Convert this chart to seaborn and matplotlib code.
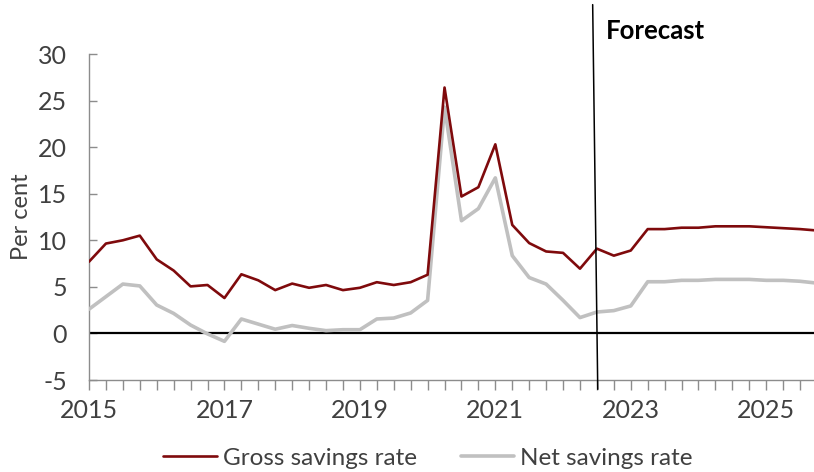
import numpy as np
import pandas as pd
import matplotlib
matplotlib.use("Agg")
import matplotlib.pyplot as plt
import seaborn as sns

# Quarterly household savings rates, 2015Q1 - 2025Q4 (per cent)
gross_rate = [7.7, 9.65, 10.0, 10.5, 7.95, 6.75, 5.05, 5.2, 3.8, 6.35, 5.7, 4.65,
              5.35, 4.9, 5.2, 4.65, 4.9, 5.5, 5.2, 5.5, 6.3, 26.4, 14.7, 15.7,
              20.3, 11.65, 9.7, 8.8, 8.65, 6.95, 9.1, 8.35, 8.9, 11.2, 11.2, 11.35,
              11.35, 11.5, 11.5, 11.5, 11.4, 11.3, 11.2, 11.05]
net_rate = [2.6, 3.95, 5.3, 5.1, 3.05, 2.15, 0.9, -0.05, -0.85, 1.55, 1.0, 0.45,
            0.85, 0.55, 0.3, 0.4, 0.4, 1.55, 1.65, 2.2, 3.55, 24.3, 12.1, 13.4,
            16.7, 8.35, 6.0, 5.3, 3.55, 1.7, 2.3, 2.45, 2.95, 5.55, 5.55, 5.7,
            5.7, 5.8, 5.8, 5.8, 5.7, 5.7, 5.6, 5.4]
year_labels = ["2015", "2017", "2019", "2021", "2023", "2025"]
forecast_start = 30.0  # quarter index where the forecast begins (2022Q3)

quarter = np.arange(len(gross_rate))
df = pd.DataFrame({"quarter": quarter, "gross": gross_rate, "net": net_rate})

sns.set_style("white")
plt.rcParams["font.family"] = ["Lato", "DejaVu Sans"]
plt.rcParams["axes.unicode_minus"] = False

fig = plt.figure(figsize=(8.14, 4.72), dpi=100)
ax = fig.add_axes([89 / 814, 92 / 472, (817 - 89) / 814, (380 - 54) / 472])

red = "#7F0A0C"
grey = "#C0C0C0"
sns.lineplot(data=df, x="quarter", y="net", ax=ax, color=grey, linewidth=2.6,
             label="Net savings rate", zorder=3)
sns.lineplot(data=df, x="quarter", y="gross", ax=ax, color=red, linewidth=1.9,
             label="Gross savings rate", zorder=4)

ax.axhline(0, color="black", linewidth=1.6, zorder=2)

ax.set_xlim(0, len(gross_rate) - 1)
ax.set_ylim(-5, 30)
ax.set_yticks(np.arange(-5, 31, 5))
ax.set_xticks(np.arange(0, len(gross_rate), 8))
ax.set_xticklabels(year_labels)
ax.set_xticks(quarter, minor=True)

for side in ("top", "right"):
    ax.spines[side].set_visible(False)
for side in ("left", "bottom"):
    ax.spines[side].set_color("#8C8C8C")
    ax.spines[side].set_linewidth(1.0)

ax.tick_params(axis="y", direction="in", length=6, width=1, color="#8C8C8C",
               labelsize=18, labelcolor="#404040", pad=16, left=True)
ax.tick_params(axis="x", which="both", direction="out", length=7, width=1,
               color="#8C8C8C", labelsize=18, labelcolor="#404040", pad=7, bottom=True)

ax.set_xlabel("")
ax.set_ylabel("Per cent", fontsize=17, color="#404040", labelpad=4)

# Forecast divider and label
ax.plot([forecast_start - 0.25, forecast_start + 0.05], [35.3, -6.0],
        color="black", linewidth=1.1, clip_on=False, zorder=5)
ax.text(forecast_start + 0.55, 32.5, "Forecast", fontsize=18.5, fontweight="bold",
        color="black", ha="left", va="center")

handles, labels = ax.get_legend_handles_labels()
ax.legend(handles[::-1], labels[::-1], loc="center", bbox_to_anchor=(428 / 814, 14 / 472),
          bbox_transform=fig.transFigure, ncol=2, frameon=False, fontsize=17.5,
          handlelength=2.2, handletextpad=0.25, columnspacing=1.8,
          labelcolor="#404040")

fig.savefig("out.png", dpi=100)
